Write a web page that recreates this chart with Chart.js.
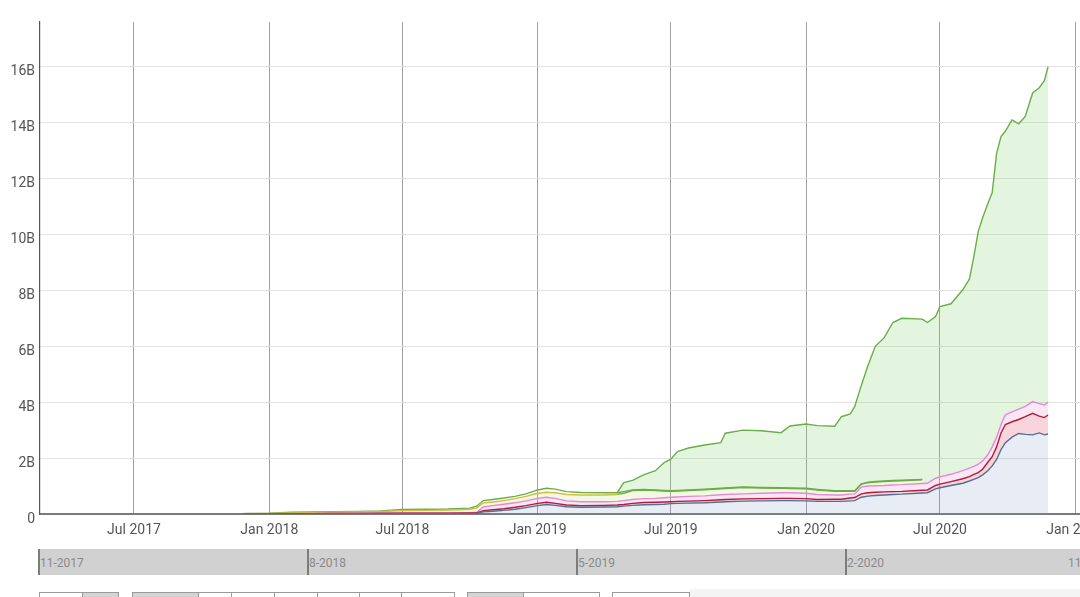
<!DOCTYPE html>
<html><head><meta charset="utf-8">
<script src="https://cdn.jsdelivr.net/npm/chart.js@4.4.1/dist/chart.umd.min.js"></script>
<style>
html,body{margin:0;padding:0;background:#fff;overflow:hidden;}
#wrap{position:relative;width:1080px;height:597px;overflow:hidden;font-family:Roboto,"Noto Sans",sans-serif;background:#fff;}
#c{position:absolute;left:0;top:0;}
.abs{position:absolute;box-sizing:border-box;}
.navlbl{position:absolute;font-size:12px;color:#8a8a8a;line-height:26px;top:550px;white-space:nowrap;}
</style></head><body>
<div id="wrap">
<canvas id="c" width="1130" height="540"></canvas>
<div id="nav"></div>
</div>
<script>
// ---- data (values in billions) ----
const dates = ["2017-11-25","2017-12-01","2018-01-01","2018-02-01","2018-03-01","2018-04-01","2018-05-01","2018-06-01","2018-07-01","2018-08-01","2018-09-01","2018-10-01","2018-10-10","2018-10-19","2018-11-01","2018-11-16","2018-12-01","2018-12-16","2019-01-01","2019-01-13","2019-01-25","2019-02-09","2019-03-01","2019-04-01","2019-04-19","2019-04-28","2019-05-10","2019-05-25","2019-06-10","2019-06-22","2019-07-01","2019-07-10","2019-07-25","2019-08-16","2019-09-07","2019-09-13","2019-10-07","2019-11-01","2019-11-28","2019-12-10","2020-01-01","2020-01-16","2020-02-09","2020-02-18","2020-03-01","2020-03-07","2020-03-16","2020-03-25","2020-04-04","2020-04-16","2020-04-28","2020-05-10","2020-06-07","2020-06-14","2020-06-25","2020-07-01","2020-07-16","2020-08-01","2020-08-10","2020-08-16","2020-08-22","2020-08-28","2020-09-04","2020-09-10","2020-09-16","2020-09-22","2020-09-28","2020-10-07","2020-10-16","2020-10-25","2020-11-04","2020-11-13","2020-11-20","2020-11-25"];

const blueSeries = [0,0,0,0.005,0.005,0.01,0.01,0.01,0.01,0.01,0.01,0.015,
 0.02,0.08,0.10,0.13,0.17,0.23,0.30,0.34,0.31,0.26,0.24,0.25,
 0.26,0.28,0.31,0.33,0.34,0.35,0.37,0.38,0.39,0.40,0.43,0.44,
 0.46,0.47,0.48,0.48,0.47,0.45,0.45,0.45,0.47,0.48,0.60,0.64,
 0.66,0.68,0.70,0.71,0.75,0.76,0.90,0.94,1.02,1.10,1.18,1.24,
 1.30,1.40,1.55,1.72,1.95,2.30,2.55,2.75,2.88,2.85,2.83,2.90,2.83,2.86];

const redSeries = [0,0,0.005,0.005,0.01,0.01,0.01,0.015,0.02,0.02,0.02,0.02,
 0.02,0.04,0.05,0.06,0.07,0.07,0.08,0.08,0.07,0.06,0.06,0.06,
 0.06,0.06,0.07,0.08,0.08,0.08,0.07,0.07,0.07,0.08,0.08,0.08,
 0.08,0.08,0.08,0.08,0.08,0.07,0.08,0.08,0.10,0.11,0.12,0.12,
 0.12,0.11,0.10,0.10,0.10,0.10,0.12,0.13,0.14,0.16,0.16,0.18,
 0.18,0.20,0.30,0.33,0.45,0.60,0.65,0.55,0.50,0.63,0.77,0.60,0.62,0.68];

const pinkSeries = [0,0,0.005,0.005,0.005,0.005,0.01,0.005,0.01,0.01,0.01,0.015,
 0.02,0.13,0.15,0.16,0.16,0.17,0.18,0.18,0.18,0.15,0.14,0.13,
 0.13,0.14,0.14,0.14,0.14,0.15,0.16,0.16,0.17,0.17,0.18,0.18,
 0.18,0.19,0.20,0.20,0.19,0.18,0.15,0.15,0.14,0.13,0.24,0.24,
 0.23,0.23,0.24,0.24,0.24,0.24,0.26,0.26,0.26,0.29,0.30,0.28,
 0.30,0.30,0.27,0.35,0.35,0.30,0.35,0.35,0.37,0.37,0.42,0.45,0.45,0.46];

const yellowSeries = [0.005,0.01,0.01,0.025,0.03,0.035,0.04,0.06,0.08,0.09,0.10,0.12,
 0.16,0.15,0.13,0.13,0.15,0.16,0.18,0.18,0.20,0.23,0.24,0.24,
 0.25,0.26,0.32,0.31,0.28,0.24,0.21,0.21,0.21,0.22,0.21,0.21,
 0.23,0.19,0.16,0.15,0.16,0.16,0.13,0.13,0.10,0.09,0.10,0.12,
 0.13,0.14,0.14,0.14,0.13,
 null,null,null,null,null,null,null,null,null,null,null,null,null,null,null,null,null,null,null,null,null];

const greenLowSeries = [0.005,0.01,0.01,0.02,0.02,0.02,0.02,0.02,0.04,0.04,0.04,0.04,
 0.06,0.08,0.09,0.09,0.08,0.09,0.12,0.14,0.13,0.10,0.09,0.08,
 0.06,0.06,
 0.02,0.02,0.02,0.02,0.02,0.02,0.02,0.02,0.02,0.02,0.02,0.02,0.02,0.02,0.02,0.02,0.02,0.02,0.02,0.02,0.02,0.02,0.02,0.02,0.02,0.02,0.02,
 null,null,null,null,null,null,null,null,null,null,null,null,null,null,null,null,null,null,null,null,null];

const greenTopSeries = [null,null,null,null,null,null,null,null,null,null,null,null,
 null,null,null,null,null,null,null,null,null,null,null,null,
 0,0.32,0.34,0.52,0.69,1.00,1.13,1.39,1.50,1.58,1.63,1.96,
 2.03,2.03,1.97,2.22,2.30,2.28,2.31,2.65,2.75,3.01,3.52,4.16,
 4.84,5.12,5.65,5.79,5.73,5.75,5.78,6.09,6.10,6.47,6.76,7.50,
 8.32,8.70,8.98,9.10,10.15,10.30,10.15,10.45,10.21,10.37,11.04,11.30,11.60,12.0];

const xTickDates = ["2017-07-01","2018-01-01","2018-07-01","2019-01-01","2019-07-01","2020-01-01","2020-07-01","2021-01-01"];
const xTickLabels = ["Jul 2017","Jan 2018","Jul 2018","Jan 2019","Jul 2019","Jan 2020","Jul 2020","Jan 2021"];
const yTickValues = [0,2,4,6,8,10,12,14,16];
const navLabels = ["11-2017","8-2018","5-2019","2-2020","11-2020"];

// ---- helpers ----
const DAY0 = Date.UTC(2017,0,1);
function dayOf(s){ const [y,m,d]=s.split("-").map(Number); return (Date.UTC(y,m-1,d)-DAY0)/86400000; }
function pts(arr){ return dates.map((d,i)=>({x:dayOf(d), y:arr[i]})); }

const GREEN = "#6aae48", YELLOW = "#d2bd3c";
const yellowHiddenFrom = dayOf("2019-04-19"); // yellow edge runs under the green edge from here on

function ds(label, arr, line, fillColor, fill, extra){
  return Object.assign({label, data:pts(arr), borderColor:line, backgroundColor:fillColor, borderWidth:1.4,
    pointRadius:0, pointHoverRadius:0, tension:0, fill, spanGaps:false}, extra||{});
}

const datasets = [
  ds("A", blueSeries, "#55708f", "rgba(120,150,200,0.18)", "origin"),
  ds("B", redSeries, "#b01c3c", "rgba(225,60,95,0.22)", "stack"),
  ds("C", pinkSeries, "#e48ad2", "rgba(235,140,210,0.22)", "stack"),
  ds("D", yellowSeries, YELLOW, "rgba(190,220,120,0.2)", "stack",
     {segment:{borderColor: c => c.p0.parsed.x >= yellowHiddenFrom ? GREEN : YELLOW}}),
  ds("E", greenLowSeries, GREEN, "rgba(200,215,90,0.3)", "stack"),
  ds("F", greenTopSeries, GREEN, "rgba(130,210,110,0.22)", "stack")
];

new Chart(document.getElementById("c"), {
  type: "line",
  data: { datasets },
  options: {
    responsive:false, animation:false, devicePixelRatio:1,
    layout:{ padding:{ top:22, right:10, left:0, bottom:0 } },
    plugins:{ legend:{display:false}, tooltip:{enabled:false} },
    scales:{
      x:{
        type:"linear", min:53.2, max:1521.8,
        afterBuildTicks: s => { s.ticks = xTickDates.map(d => ({value: dayOf(d)})); },
        afterFit: s => { s.height = 26; },
        ticks:{ callback:(v,i)=>xTickLabels[i], color:"#555", font:{family:"Roboto", size:14}, padding:8, maxRotation:0, autoSkip:false },
        grid:{ color:"#a2a2a2", lineWidth:1, drawTicks:false },
        border:{ color:"#7a7a7a", width:2 }
      },
      y:{
        stacked:true, min:0, max:17.6,
        afterBuildTicks: s => { s.ticks = yTickValues.map(v => ({value:v})); },
        afterFit: s => { s.width = 40; },
        ticks:{ callback:v => v===0 ? "0" : v+"B", color:"#555", font:{family:"Roboto", size:14}, padding:5, labelOffset:5 },
        grid:{ color:"#e3e3e3", lineWidth:1, drawTicks:false },
        border:{ color:"#555", width:1.2 }
      }
    }
  }
});

// ---- range navigator & control row (page chrome) ----
const nav = document.getElementById("nav");
function box(l,t,w,h,bg,border){ const d=document.createElement("div"); d.className="abs";
  d.style.cssText=`left:${l}px;top:${t}px;width:${w}px;height:${h}px;background:${bg};${border?'border:1px solid '+border+';':''}`; nav.appendChild(d); }
box(38,549,1060,26,"#d1d1d1");
const navX = [38,307,576,845,1066];
navX.forEach((x,i)=>{ if(i<4) box(x,549,1.5,26,"#7c7c7c");
  const t=document.createElement("div"); t.className="navlbl"; t.style.left=(x+2)+"px"; t.textContent=navLabels[i]; nav.appendChild(t); });
box(690,589,400,10,"#f4f4f4");
const btns = [[39,43,"#fff"],[82,36,"#d4d4d4"],[132,66,"#d4d4d4"],[198,33,"#fff"],[231,43,"#fff"],[274,43,"#fff"],[317,42,"#fff"],[359,42,"#fff"],[401,53,"#fff"],[467,56,"#d4d4d4"],[523,76,"#fff"],[612,77,"#fff"]];
btns.forEach(b=>box(b[0],592,b[1]+1,16,b[2],"#9a9a9a"));
</script>
</body></html>
